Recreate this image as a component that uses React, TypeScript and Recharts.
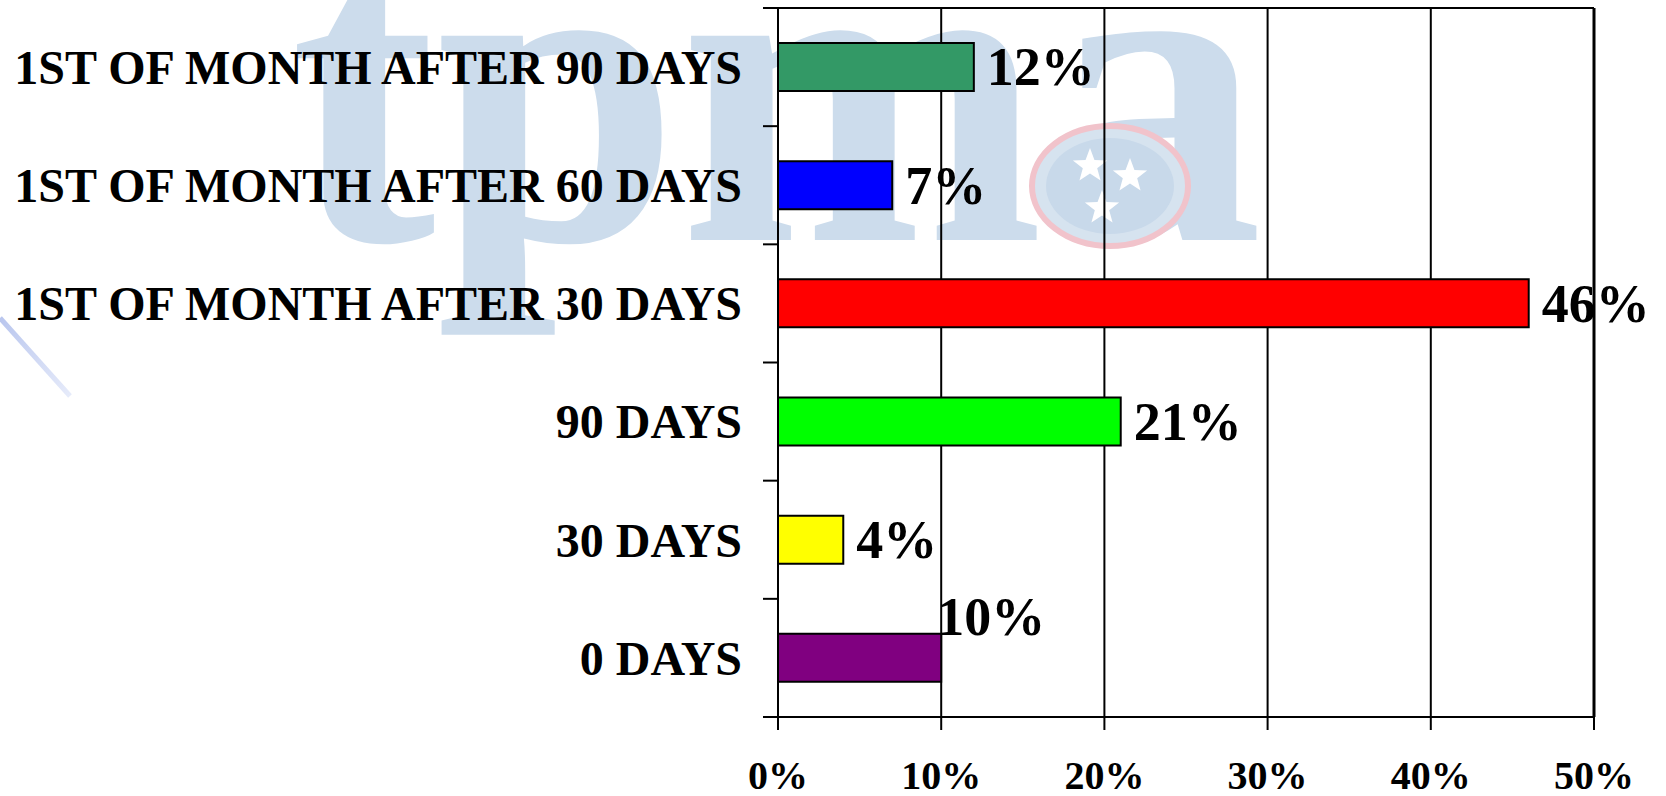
import React from 'react';
import {
  BarChart,
  Bar,
  XAxis,
  YAxis,
  CartesianGrid,
  Cell,
  LabelList,
  ReferenceLine,
} from 'recharts';

// Survey answers, listed top to bottom as they appear on the chart
const categories = [
  '1ST OF MONTH AFTER 90 DAYS',
  '1ST OF MONTH AFTER 60 DAYS',
  '1ST OF MONTH AFTER 30 DAYS',
  '90 DAYS',
  '30 DAYS',
  '0 DAYS',
];
const shares = [12, 7, 46, 21, 4, 10];
const barColors = ['#339966', '#0000FF', '#FF0000', '#00FF00', '#FFFF00', '#800080'];
const percentTicks = [0, 10, 20, 30, 40, 50];

const rows = categories.map((name, i) => ({ name, share: shares[i], color: barColors[i] }));

const WIDTH = 1666;
const HEIGHT = 796;
const AXIS_X = 778;
const TOP_AXIS_H = 8;
const X_AXIS_H = 79;
const PLOT_H = HEIGHT - TOP_AXIS_H - X_AXIS_H;
const BAND = PLOT_H / categories.length;
const SERIF = "'Liberation Serif', 'Times New Roman', serif";

// The "0 DAYS" value label sits above and left of its bar end
const labelNudge: Record<string, { dx: number; dy: number }> = {
  '0 DAYS': { dx: -17, dy: -41 },
};

function CategoryTick(props: any) {
  const { x, y, payload, index } = props;
  const upper = y - BAND / 2;
  const lower = y + BAND / 2;
  return (
    <g>
      <line x1={AXIS_X - 15} x2={AXIS_X} y1={upper} y2={upper} stroke="#000" strokeWidth={2} />
      {index === categories.length - 1 && (
        <line x1={AXIS_X - 15} x2={AXIS_X} y1={lower} y2={lower} stroke="#000" strokeWidth={2} />
      )}
      <text
        x={x}
        y={y}
        dy="0.35em"
        textAnchor="end"
        fontFamily={SERIF}
        fontWeight="bold"
        fontSize={48}
        fill="#000"
      >
        {payload.value}
      </text>
    </g>
  );
}

function ValueLabel(props: any) {
  const { x, y, width, height, value, index } = props;
  const nudge = labelNudge[categories[index]] ?? { dx: 0, dy: 0 };
  return (
    <text
      x={Number(x) + Number(width) + 13 + nudge.dx}
      y={Number(y) + Number(height) / 2 + nudge.dy}
      dy="0.34em"
      textAnchor="start"
      fontFamily={SERIF}
      fontWeight="bold"
      fontSize={54}
      fill="#000"
    >
      {`${value}%`}
    </text>
  );
}

function Star({ cx, cy, r }: { cx: number; cy: number; r: number }) {
  const pts: string[] = [];
  for (let k = 0; k < 10; k++) {
    const rad = k % 2 === 0 ? r : r * 0.42;
    const a = -Math.PI / 2 + (k * Math.PI) / 5;
    pts.push(`${cx + rad * Math.cos(a)},${cy + rad * Math.sin(a)}`);
  }
  return <polygon points={pts.join(' ')} fill="#ffffff" />;
}

// Faint "tpma" letterhead mark printed behind the chart
function Watermark() {
  return (
    <svg
      width={WIDTH}
      height={HEIGHT}
      style={{ position: 'absolute', left: 0, top: 0 }}
    >
      <defs>
        <linearGradient id="swoosh" x1="0" y1="0" x2="1" y2="1">
          <stop offset="0%" stopColor="#b9c6ee" />
          <stop offset="100%" stopColor="#e6ebfa" />
        </linearGradient>
      </defs>
      <text
        x={290}
        y={240}
        fontFamily={SERIF}
        fontWeight="bold"
        fontSize={445}
        fill="#ccdcec"
        textLength={973}
        lengthAdjust="spacingAndGlyphs"
      >
        tpma
      </text>
      <ellipse cx={1110} cy={186} rx={78} ry={60} fill="#d6e3ef" stroke="#f1c3cb" strokeWidth={6} />
      <ellipse cx={1110} cy={186} rx={64} ry={48} fill="#c8d9ea" />
      <Star cx={1090} cy={166} r={18} />
      <Star cx={1130} cy={176} r={18} />
      <Star cx={1102} cy={208} r={18} />
      <line x1={0} y1={318} x2={70} y2={396} stroke="url(#swoosh)" strokeWidth={5} />
    </svg>
  );
}

export default function App() {
  return (
    <div
      style={{
        position: 'absolute',
        left: 0,
        top: 0,
        width: WIDTH,
        height: HEIGHT,
        background: '#ffffff',
        overflow: 'hidden',
      }}
    >
      <Watermark />
      <div style={{ position: 'absolute', left: 0, top: 0 }}>
        <BarChart
          width={WIDTH}
          height={HEIGHT}
          data={rows}
          layout="vertical"
          margin={{ top: 0, right: 72, bottom: 0, left: 0 }}
        >
          <CartesianGrid horizontal={false} stroke="#000" strokeWidth={2} />
          <XAxis
            type="number"
            domain={[0, 50]}
            ticks={percentTicks}
            interval={0}
            tickFormatter={(v: number) => `${v}%`}
            height={X_AXIS_H}
            tickSize={13}
            tickMargin={31}
            tick={{ fontFamily: SERIF, fontWeight: 'bold', fontSize: 40, fill: '#000' }}
            tickLine={{ stroke: '#000', strokeWidth: 2 }}
            axisLine={{ stroke: '#000', strokeWidth: 2 }}
          />
          <XAxis
            xAxisId="top"
            orientation="top"
            type="number"
            domain={[0, 50]}
            height={TOP_AXIS_H}
            tick={false}
            tickLine={false}
            axisLine={{ stroke: '#000', strokeWidth: 2 }}
          />
          <YAxis
            type="category"
            dataKey="name"
            width={AXIS_X}
            interval={0}
            tickSize={15}
            tickMargin={21}
            tickLine={false}
            tick={<CategoryTick />}
            axisLine={{ stroke: '#000', strokeWidth: 2 }}
          />
          <Bar
            dataKey="share"
            barSize={48}
            stroke="#000"
            strokeWidth={2}
            isAnimationActive={false}
          >
            {rows.map((r) => (
              <Cell key={r.name} fill={r.color} />
            ))}
            <LabelList dataKey="share" content={<ValueLabel />} />
          </Bar>
          <ReferenceLine x={50} stroke="#000" strokeWidth={3} />
        </BarChart>
      </div>
    </div>
  );
}
